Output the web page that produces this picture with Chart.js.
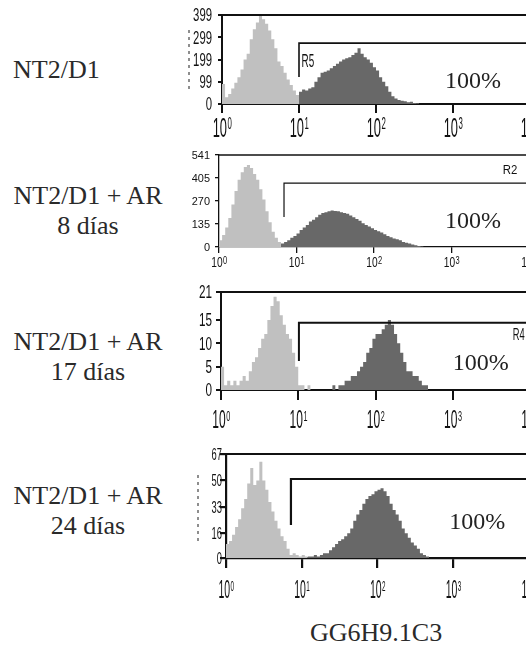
<!DOCTYPE html>
<html>
<head>
<meta charset="utf-8">
<script src="https://cdn.jsdelivr.net/npm/chart.js@4.4.0/dist/chart.umd.min.js"></script>
<style>
    html, body { margin: 0; padding: 0; background: #fff; }
    body { width: 526px; height: 655px; position: relative; overflow: hidden; }
    .lbl {
        position: absolute; left: 13px; width: 150px;
        font-family: "Liberation Serif", "DejaVu Serif", serif;
        font-size: 26px; line-height: 30px; color: #2a2a2a; text-align: center;
    }
    .lbl.single { text-align: left; }
    .box { position: absolute; }
</style>
</head>
<body>
<div class="lbl single" style="top:55px">NT2/D1</div>
<div class="lbl" style="top:181px">NT2/D1 + AR<br>8 días</div>
<div class="lbl" style="top:327px">NT2/D1 + AR<br>17 días</div>
<div class="lbl" style="top:481px">NT2/D1 + AR<br>24 días</div>
<div class="lbl single" style="top:618px; left:310px; width:200px">GG6H9.1C3</div>

<div class="box" id="box1"><canvas id="chart1"></canvas></div>
<div class="box" id="box2"><canvas id="chart2"></canvas></div>
<div class="box" id="box3"><canvas id="chart3"></canvas></div>
<div class="box" id="box4"><canvas id="chart4"></canvas></div>

<script>
// Histogram bins: 25 per decade on the log axis
const binsPerDecade = 25;
const xTickValues = [1, 10, 100, 1000, 10000];
const xTickExponents = ['0', '1', '2', '3', '4'];

// NT2/D1
const p1YTicks = [0, 99, 199, 299, 399];
const p1LightStart = 0;
const p1Light = [90, 30, 45, 70, 95, 120, 155, 200, 225, 290, 335, 365, 395, 380, 360, 330, 290, 250, 190, 170, 140, 110, 85, 60, 40, 25, 10];
const p1DarkStart = 25;
const p1Dark = [55, 65, 60, 70, 75, 100, 120, 140, 145, 150, 160, 170, 180, 190, 200, 205, 210, 220, 230, 250, 225, 210, 200, 185, 165, 150, 120, 100, 80, 55, 35, 25, 18, 15, 12, 8, 10, 5, 3];
const p1Gate = [10, 273, 121];          // x, upper count, lower count
const p1GateName = 'R5';

// NT2/D1 + AR, 8 dias
const p2YTicks = [0, 135, 270, 405, 541];
const p2LightStart = 0;
const p2Light = [40, 70, 115, 170, 250, 330, 395, 440, 470, 482, 465, 430, 395, 340, 280, 210, 145, 90, 55, 30, 15];
const p2DarkStart = 20;
const p2Dark = [20, 30, 40, 55, 65, 80, 100, 115, 130, 150, 160, 175, 190, 200, 205, 210, 215, 212, 210, 205, 200, 195, 185, 175, 165, 155, 140, 130, 120, 110, 100, 92, 85, 75, 65, 58, 50, 45, 40, 30, 25, 20, 15, 10, 6, 3];
const p2Gate = [6.9, 376, 176];
const p2GateName = 'R2';

// NT2/D1 + AR, 17 dias
const p3YTicks = [0, 5, 10, 15, 21];
const p3LightStart = 0;
const p3Light = [5, 1, 2, 1, 2, 1, 2, 3, 2, 4, 6, 7, 9, 11, 12, 15, 18, 20, 19, 16, 14, 12, 11, 8, 5, 1, 1, 0, 1];
const p3DarkStart = 36;
const p3Dark = [1, 0, 1, 1, 2, 2, 3, 3, 4, 5, 6, 8, 9, 11, 12, 12, 13, 14, 15, 14, 12, 10, 8, 6, 4, 4, 3, 3, 2, 1, 1];
const p3Gate = [10.2, 14.4, 6.2];
const p3GateName = 'R4';

// NT2/D1 + AR, 24 dias
const p4YTicks = [0, 16, 33, 50, 67];
const p4LightStart = 0;
const p4Light = [9, 11, 15, 20, 25, 32, 38, 48, 58, 47, 50, 62, 50, 44, 36, 30, 24, 19, 14, 11, 6, 2, 3, 2, 1, 2, 1];
const p4DarkStart = 27;
const p4Dark = [1, 1, 2, 1, 2, 3, 3, 5, 7, 9, 11, 12, 14, 16, 19, 24, 28, 31, 35, 38, 40, 41, 43, 44, 45, 43, 40, 35, 31, 28, 24, 19, 16, 13, 10, 8, 6, 3, 2, 1];
const p4Gate = [7.2, 50.9, 21.3];
const p4GateName = '';

const lightColor = '#c0c0c0';
const darkColor = '#686868';
const boxLeft = 150;

// Panel layout and look (page pixels)
const panels = [
    {
        n: 1, left: 222, right: 530, top: 15, bottom: 104, yTicks: p1YTicks,
        light: [p1LightStart, p1Light], dark: [p1DarkStart, p1Dark],
        gate: p1Gate, gateName: p1GateName, gateLabelAt: [10.8, 166], pctAt: [787, 72],
        scratch: [189, 30, 90],
        style: { axisWidth: 2, gateWidth: 1.6, xTickLen: 9, yTickLen: 4, supRatio: 0.6,
                 xFont: 28, xSx: 0.46, xGap: 13, yFont: 18, ySx: 0.63, yGap: 10, gateFont: 18, gateSx: 0.55 }
    },
    {
        n: 2, left: 219, right: 529, top: 155, bottom: 247, yTicks: p2YTicks,
        light: [p2LightStart, p2Light], dark: [p2DarkStart, p2Dark],
        gate: p2Gate, gateName: p2GateName, gateLabelAt: [4600, 429], pctAt: [824, 112],
        scratch: null,
        style: { axisWidth: 1.3, gateWidth: 1.2, xTickLen: 6, yTickLen: 4, supRatio: 0.7,
                 xFont: 15, xSx: 0.68, xGap: 9, yFont: 11.5, ySx: 0.95, yGap: 9, gateFont: 12, gateSx: 0.95 }
    },
    {
        n: 3, left: 221, right: 530, top: 292, bottom: 390, yTicks: p3YTicks,
        light: [p3LightStart, p3Light], dark: [p3DarkStart, p3Dark],
        gate: p3Gate, gateName: p3GateName, gateLabelAt: [6000, 10.7], pctAt: [1000, 4.3],
        scratch: null,
        style: { axisWidth: 2, gateWidth: 2, xTickLen: 10, yTickLen: 5, supRatio: 0.6,
                 xFont: 25, xSx: 0.48, xGap: 20, yFont: 18, ySx: 0.65, yGap: 9, gateFont: 17, gateSx: 0.55 }
    },
    {
        n: 4, left: 226, right: 529, top: 454, bottom: 558, yTicks: p4YTicks,
        light: [p4LightStart, p4Light], dark: [p4DarkStart, p4Dark],
        gate: p4Gate, gateName: p4GateName, gateLabelAt: null, pctAt: [883, 18.7],
        scratch: [198, 475, 545],
        style: { axisWidth: 2.2, gateWidth: 2.2, xTickLen: 10, yTickLen: 6, supRatio: 0.6,
                 xFont: 25, xSx: 0.42, xGap: 22, yFont: 17, ySx: 0.55, yGap: 4, gateFont: 17, gateSx: 0.55 }
    }
];

const padTop = 12;
const xAxisHeight = 52;

// Turn bin counts into step points (x = left edge of each bin)
function toPoints(startBin, counts) {
    const pts = counts.map((c, i) => ({ x: Math.pow(10, (startBin + i) / binsPerDecade), y: c }));
    pts.push({ x: Math.pow(10, (startBin + counts.length) / binsPerDecade), y: 0 });
    return pts;
}

// Tall, narrow text like the cytometer print-out
function narrowText(ctx, text, x, y, size, sx, align) {
    ctx.save();
    ctx.font = size + 'px "Liberation Sans", Arial, sans-serif';
    ctx.translate(x, y);
    ctx.scale(sx, 1);
    ctx.textAlign = align;
    ctx.textBaseline = 'alphabetic';
    ctx.fillText(text, 0, 0);
    ctx.restore();
}

function textWidth(ctx, text, size, sx) {
    ctx.save();
    ctx.font = size + 'px "Liberation Sans", Arial, sans-serif';
    const w = ctx.measureText(text).width * sx;
    ctx.restore();
    return w;
}

// Frame, gate, labels and tick text
function makeFacsPlugin(p, boxTop) {
    const st = p.style;
    return {
        id: 'facs' + p.n,
        afterDraw(chart) {
            const ctx = chart.ctx;
            const area = chart.chartArea;
            const xs = chart.scales.x;
            const ys = chart.scales.y;
            ctx.save();
            ctx.fillStyle = '#111';
            ctx.strokeStyle = '#111';

            // top frame line
            ctx.lineWidth = st.axisWidth;
            ctx.beginPath();
            ctx.moveTo(area.left - st.axisWidth / 2, area.top);
            ctx.lineTo(chart.width, area.top);
            ctx.stroke();

            // gate bracket
            const gx = xs.getPixelForValue(p.gate[0]);
            const gTop = ys.getPixelForValue(p.gate[1]);
            const gLow = ys.getPixelForValue(p.gate[2]);
            ctx.lineWidth = st.gateWidth;
            ctx.beginPath();
            ctx.moveTo(gx, gLow);
            ctx.lineTo(gx, gTop);
            ctx.lineTo(chart.width, gTop);
            ctx.stroke();

            if (p.gateName && p.gateLabelAt) {
                narrowText(ctx, p.gateName, xs.getPixelForValue(p.gateLabelAt[0]),
                    ys.getPixelForValue(p.gateLabelAt[1]), st.gateFont, st.gateSx, 'left');
            }

            // percentage in the gate
            ctx.fillStyle = '#222';
            ctx.font = '24px "Liberation Serif", "DejaVu Serif", serif';
            ctx.textAlign = 'left';
            ctx.textBaseline = 'alphabetic';
            ctx.fillText('100%', xs.getPixelForValue(p.pctAt[0]), ys.getPixelForValue(p.pctAt[1]));
            ctx.fillStyle = '#111';

            // x tick labels: 10 with exponent
            const supSize = Math.round(st.xFont * st.supRatio);
            xTickValues.forEach((v, i) => {
                const px = xs.getPixelForValue(v);
                const wMain = textWidth(ctx, '10', st.xFont, st.xSx);
                const wSup = textWidth(ctx, xTickExponents[i], supSize, st.xSx);
                const x0 = px - (wMain + wSup) / 2;
                const base = area.bottom + st.xGap + st.xFont * 0.716;
                narrowText(ctx, '10', x0, base, st.xFont, st.xSx, 'left');
                narrowText(ctx, xTickExponents[i], x0 + wMain + 0.5,
                    base - (st.xFont - supSize) * 0.716, supSize, st.xSx, 'left');
            });

            // y tick labels
            p.yTicks.forEach(v => {
                const py = ys.getPixelForValue(v);
                narrowText(ctx, String(v), area.left - st.yGap, py + st.yFont * 0.716 / 2,
                    st.yFont, st.ySx, 'right');
            });

            // dashed scan mark left of the axis
            if (p.scratch) {
                ctx.lineWidth = 1.2;
                ctx.strokeStyle = '#444';
                ctx.setLineDash([3, 4]);
                ctx.beginPath();
                ctx.moveTo(p.scratch[0] - boxLeft, p.scratch[1] - boxTop);
                ctx.lineTo(p.scratch[0] - boxLeft, p.scratch[2] - boxTop);
                ctx.stroke();
            }
            ctx.restore();
        }
    };
}

function drawPanel(p) {
    const boxTop = p.top - padTop;
    const box = document.getElementById('box' + p.n);
    box.style.left = boxLeft + 'px';
    box.style.top = boxTop + 'px';
    box.style.width = (p.right + 10 - boxLeft) + 'px';
    box.style.height = (p.bottom - p.top + padTop + xAxisHeight) + 'px';

    const st = p.style;
    const yMax = p.yTicks[p.yTicks.length - 1];
    const ctx = document.getElementById('chart' + p.n).getContext('2d');
    new Chart(ctx, {
        type: 'line',
        data: {
            datasets: [
                {
                    label: 'GG6H9.1C3',
                    data: toPoints(p.dark[0], p.dark[1]),
                    stepped: true,
                    fill: 'origin',
                    backgroundColor: darkColor,
                    borderColor: 'rgba(0,0,0,0)',
                    borderWidth: 1,
                    pointRadius: 0
                },
                {
                    label: 'control',
                    data: toPoints(p.light[0], p.light[1]),
                    stepped: true,
                    fill: 'origin',
                    backgroundColor: lightColor,
                    borderColor: 'rgba(0,0,0,0)',
                    borderWidth: 1,
                    pointRadius: 0
                }
            ]
        },
        options: {
            responsive: true,
            maintainAspectRatio: false,
            animation: false,
            layout: { padding: { top: padTop, right: 10, left: 0, bottom: 0 } },
            plugins: {
                legend: { display: false },
                tooltip: { enabled: false }
            },
            scales: {
                x: {
                    type: 'logarithmic',
                    min: 1,
                    max: 10000,
                    afterBuildTicks: s => { s.ticks = xTickValues.map(v => ({ value: v })); },
                    afterFit: s => { s.height = xAxisHeight; },
                    ticks: { display: false },
                    grid: { drawOnChartArea: false, tickLength: st.xTickLen, color: '#111', lineWidth: st.axisWidth },
                    border: { display: true, color: '#111', width: st.axisWidth }
                },
                y: {
                    type: 'linear',
                    min: 0,
                    max: yMax,
                    afterBuildTicks: s => { s.ticks = p.yTicks.map(v => ({ value: v })); },
                    afterFit: s => { s.width = p.left - boxLeft; },
                    ticks: { display: false },
                    grid: { drawOnChartArea: false, tickLength: st.yTickLen, color: '#111', lineWidth: st.axisWidth },
                    border: { display: true, color: '#111', width: st.axisWidth }
                }
            }
        },
        plugins: [makeFacsPlugin(p, boxTop)]
    });
}

panels.forEach(drawPanel);
</script>
</body>
</html>
